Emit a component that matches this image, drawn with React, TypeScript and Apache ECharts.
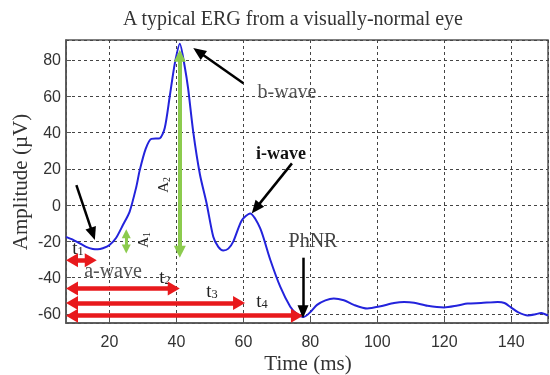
import React, { useEffect, useRef } from "react";
import * as echarts from "echarts";

// ERG trace: time (ms) and amplitude (µV)
const timeMs = [7, 9, 11, 13, 15, 16.5, 18, 20, 22, 24, 26, 28, 29, 30.8, 32.5, 35, 36.5, 38, 39.5, 41, 42.5, 43.5, 45, 47, 49, 51, 52.5, 54, 55.5, 57, 59.5, 62, 65, 68, 71, 74, 76, 78, 80, 82, 84.5, 87, 90, 93, 97, 101, 105, 108, 111, 115, 120, 124, 127, 131, 136, 138, 140, 142, 145, 147, 149, 151];
const amplitude = [-17.5, -19, -21, -23, -24.2, -24.4, -23.8, -22, -18, -11, -3.7, 10, 19, 31, 36.5, 36.8, 42.5, 60, 78, 89, 76, 64, 40.5, 17, 1, -17.5, -23, -25, -24, -20, -8.5, -4.6, -12.7, -30, -45, -56, -60, -61.7, -59, -55, -52.5, -51.5, -52.5, -55, -57, -55.8, -54, -53.4, -53.8, -55.5, -56.4, -55.3, -54.3, -54, -53.4, -54, -56.5, -59, -60.8, -60.3, -59.5, -61];

// Red timing arrows (arrowhead centres): [startTime, endTime, amplitude]
const timingArrows: [number, number, number][] = [
  [8.8, 14.4, -30.4],
  [8.8, 39.2, -46],
  [8.8, 58.7, -54],
  [8.8, 76, -61],
];
// Green amplitude arrows (arrowhead centres): [time, top, bottom, width]
const amplitudeArrows: [number, number, number, number][] = [
  [41, 82.3, -25.7, 4],
  [25, -15.8, -24.2, 3],
];
// Black pointer arrows: [fromT, fromA, toT, toA]
const pointerArrows: [number, number, number, number][] = [
  [10.1, 11, 15.0, -15.9],
  [60, 67.2, 46.6, 84.5],
  [74.5, 23, 63.7, -1.8],
  [77.8, -29, 77.8, -58.8],
];

const X_MIN = 7;
const X_MAX = 151;
const Y_MIN = -65;
const Y_MAX = 91;

const serif = "Liberation Serif";
const sans = "Liberation Sans";

export default function App() {
  const ref = useRef<HTMLDivElement>(null);
  useEffect(() => {
    if (!ref.current) return;
    const chart = echarts.init(ref.current, undefined, { renderer: "svg" });

    const markData: any[] = [];
    timingArrows.forEach(([a, b, y]) => {
      markData.push([
        { coord: [a, y], symbol: "triangle", symbolSize: [14, 12], lineStyle: { color: "#e8191c", width: 4.5, type: "solid" } },
        { coord: [b, y], symbol: "triangle", symbolSize: [14, 12] },
      ]);
    });
    amplitudeArrows.forEach(([t, top, bot, w]) => {
      markData.push([
        { coord: [t, top], symbol: "triangle", symbolSize: [w * 3, w * 3], lineStyle: { color: "#8ccb4e", width: w, type: "solid" } },
        { coord: [t, bot], symbol: "triangle", symbolSize: [w * 3, w * 3] },
      ]);
    });
    pointerArrows.forEach(([x0, y0, x1, y1]) => {
      markData.push([
        { coord: [x0, y0], symbol: "none", lineStyle: { color: "#000", width: 2.5, type: "solid" } },
        { coord: [x1, y1], symbol: "triangle", symbolSize: [11, 13] },
      ]);
    });

    const text = (t: string, x: number, y: number, size: number, extra: any = {}) => ({
      type: "text",
      x,
      y,
      silent: true,
      ...extra.el,
      style: {
        text: t,
        fontFamily: serif,
        fontSize: size,
        fill: "#333",
        align: "center",
        verticalAlign: "middle",
        ...extra.style,
      },
    });
    const sub = (main: string, s: string, x: number, y: number, size: number, rotation = 0) => ({
      type: "text",
      x,
      y,
      rotation,
      silent: true,
      style: {
        text: `{m|${main}}{s|${s}}`,
        align: "center",
        verticalAlign: "middle",
        rich: {
          m: { fontFamily: serif, fontSize: size, fill: "#222" },
          s: { fontFamily: serif, fontSize: size * 0.65, fill: "#222", padding: [size * 0.45, 0, 0, 0] },
        },
      },
    });

    chart.setOption({
      animation: false,
      grid: { left: 66, right: 2, top: 40, bottom: 52, show: true, borderColor: "#555", borderWidth: 1.5, backgroundColor: "transparent" },
      xAxis: {
        type: "value",
        min: X_MIN,
        max: X_MAX,
        splitNumber: 7,
        axisLine: { show: true, onZero: false, lineStyle: { color: "#555", width: 1.5 } },
        axisTick: { show: true, inside: true, length: 5, lineStyle: { color: "#555" } },
        axisLabel: { showMinLabel: false, showMaxLabel: false, fontFamily: sans, fontSize: 16, color: "#333", margin: 10 },
        splitLine: { show: true, lineStyle: { color: "#444", width: 1, type: [3, 3] } },
      },
      yAxis: {
        type: "value",
        min: Y_MIN,
        max: Y_MAX,
        splitNumber: 8,
        axisLine: { show: true, onZero: false, lineStyle: { color: "#555", width: 1.5 } },
        axisTick: { show: true, inside: true, length: 5, lineStyle: { color: "#555" } },
        axisLabel: { showMinLabel: false, showMaxLabel: false, fontFamily: sans, fontSize: 16, color: "#333", margin: 5 },
        splitLine: { show: true, lineStyle: { color: "#444", width: 1, type: [3, 3] } },
      },
      series: [
        {
          type: "line",
          data: timeMs.map((t, i) => [t, amplitude[i]]),
          showSymbol: false,
          smooth: 0.25,
          lineStyle: { color: "#2323dc", width: 2 },
          silent: true,
          z: 3,
          markLine: {
            silent: true,
            label: { show: false },
            emphasis: { disabled: true },
            data: markData,
            z: 4,
          },
        },
      ],
      graphic: [
        text("A typical ERG from a visually-normal eye", 293, 18, 20),
        text("Amplitude (µV)", 20, 182, 21, { el: { rotation: Math.PI / 2 } }),
        text("Time (ms)", 308, 363, 21),
        text("b-wave", 287, 91, 20, { style: { fill: "#555" } }),
        text("i-wave", 281, 153, 18, { style: { fontWeight: "bold", fill: "#111" } }),
        text("PhNR", 313, 240, 20, { style: { fill: "#444" } }),
        text("a-wave", 113, 270, 20, { style: { fill: "#555" } }),
        sub("t", "1", 78, 247, 19),
        sub("t", "2", 165, 276, 19),
        sub("t", "3", 212, 290, 19),
        sub("t", "4", 262, 300, 19),
        sub("A", "2", 163, 185, 15, Math.PI / 2),
        sub("A", "1", 143, 240, 15, Math.PI / 2),
      ],
    });
    return () => chart.dispose();
  }, []);
  return <div ref={ref} style={{ width: 550, height: 375, position: "fixed", left: 0, top: 0 }} />;
}
